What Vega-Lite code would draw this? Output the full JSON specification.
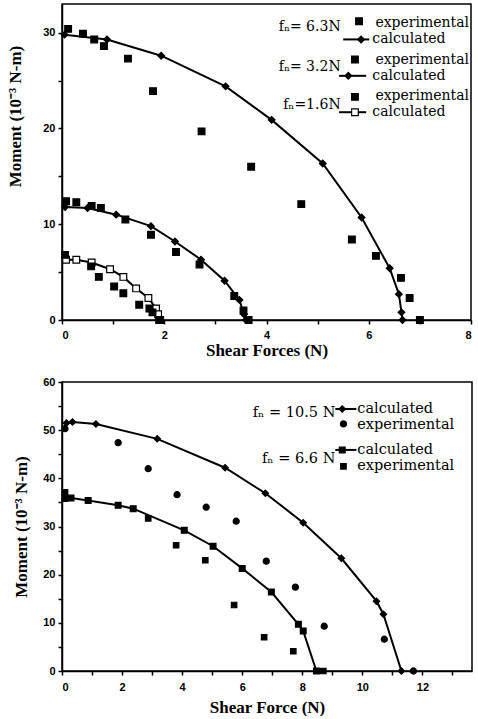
{
  "$schema": "https://vega.github.io/schema/vega-lite/v6.json",
  "padding": {"left": 6, "top": 3, "right": 4, "bottom": 0},
  "background": "white",
  "spacing": 16,
  "columns": 1,
  "align": "none",
  "resolve": {"scale": {"shape": "independent", "fill": "independent", "size": "independent"}},
  "config": {
    "font": "Liberation Serif",
    "axis": {"labelFont": "Liberation Sans", "labelFontWeight": "bold", "labelFontSize": 11, "labelColor": "black",
      "titleFont": "Liberation Serif", "titleFontSize": 17, "titleFontWeight": "bold", "titleColor": "black",
      "domainColor": "black", "domainWidth": 1.5, "tickColor": "black", "tickWidth": 1.5, "tickSize": 4,
      "grid": false, "labelOverlap": false, "labelPadding": 3},
    "view": {"stroke": "black", "strokeWidth": 1.5},
    "text": {"font": "DejaVu Serif", "fontSize": 14, "color": "black"}
  },
  "datasets": {
    "top": [
      {"s": "6.3N calculated", "kind": "calc", "x": 0.05, "y": 29.8},
      {"s": "6.3N calculated", "kind": "calc", "x": 0.88, "y": 29.3},
      {"s": "6.3N calculated", "kind": "calc", "x": 1.94, "y": 27.6},
      {"s": "6.3N calculated", "kind": "calc", "x": 3.2, "y": 24.4},
      {"s": "6.3N calculated", "kind": "calc", "x": 4.1, "y": 20.9},
      {"s": "6.3N calculated", "kind": "calc", "x": 5.1, "y": 16.35},
      {"s": "6.3N calculated", "kind": "calc", "x": 5.86, "y": 10.7},
      {"s": "6.3N calculated", "kind": "calc", "x": 6.41, "y": 5.4},
      {"s": "6.3N calculated", "kind": "calc", "x": 6.59, "y": 2.7},
      {"s": "6.3N calculated", "kind": "calc", "x": 6.64, "y": 0.8},
      {"s": "6.3N calculated", "kind": "calc", "x": 6.66, "y": 0},
      {"s": "6.3N experimental", "kind": "exp", "x": 0.12, "y": 30.4},
      {"s": "6.3N experimental", "kind": "exp", "x": 0.41, "y": 29.9},
      {"s": "6.3N experimental", "kind": "exp", "x": 0.63, "y": 29.3},
      {"s": "6.3N experimental", "kind": "exp", "x": 0.82, "y": 28.6},
      {"s": "6.3N experimental", "kind": "exp", "x": 1.29, "y": 27.3},
      {"s": "6.3N experimental", "kind": "exp", "x": 1.78, "y": 23.9},
      {"s": "6.3N experimental", "kind": "exp", "x": 2.73, "y": 19.7},
      {"s": "6.3N experimental", "kind": "exp", "x": 3.7, "y": 16.0},
      {"s": "6.3N experimental", "kind": "exp", "x": 4.68, "y": 12.1},
      {"s": "6.3N experimental", "kind": "exp", "x": 5.67, "y": 8.4},
      {"s": "6.3N experimental", "kind": "exp", "x": 6.14, "y": 6.7},
      {"s": "6.3N experimental", "kind": "exp", "x": 6.63, "y": 4.4},
      {"s": "6.3N experimental", "kind": "exp", "x": 6.8, "y": 2.3},
      {"s": "6.3N experimental", "kind": "exp", "x": 7.0, "y": 0},
      {"s": "3.2N calculated", "kind": "calc", "x": 0.06, "y": 11.8},
      {"s": "3.2N calculated", "kind": "calc", "x": 0.5, "y": 11.7},
      {"s": "3.2N calculated", "kind": "calc", "x": 1.06, "y": 11.0},
      {"s": "3.2N calculated", "kind": "calc", "x": 1.74, "y": 9.8},
      {"s": "3.2N calculated", "kind": "calc", "x": 2.21, "y": 8.2},
      {"s": "3.2N calculated", "kind": "calc", "x": 2.72, "y": 6.3},
      {"s": "3.2N calculated", "kind": "calc", "x": 3.18, "y": 4.1},
      {"s": "3.2N calculated", "kind": "calc", "x": 3.47, "y": 2.1},
      {"s": "3.2N calculated", "kind": "calc", "x": 3.56, "y": 0.6},
      {"s": "3.2N calculated", "kind": "calc", "x": 3.6, "y": 0},
      {"s": "3.2N experimental", "kind": "exp", "x": 0.08, "y": 12.4},
      {"s": "3.2N experimental", "kind": "exp", "x": 0.28, "y": 12.3},
      {"s": "3.2N experimental", "kind": "exp", "x": 0.58, "y": 11.9},
      {"s": "3.2N experimental", "kind": "exp", "x": 0.76, "y": 11.7},
      {"s": "3.2N experimental", "kind": "exp", "x": 1.24, "y": 10.5},
      {"s": "3.2N experimental", "kind": "exp", "x": 1.74, "y": 8.9},
      {"s": "3.2N experimental", "kind": "exp", "x": 2.23, "y": 7.1},
      {"s": "3.2N experimental", "kind": "exp", "x": 2.69, "y": 5.8},
      {"s": "3.2N experimental", "kind": "exp", "x": 3.37, "y": 2.5},
      {"s": "3.2N experimental", "kind": "exp", "x": 3.55, "y": 1.0},
      {"s": "3.2N experimental", "kind": "exp", "x": 3.65, "y": 0},
      {"s": "1.6N calculated", "kind": "calc", "x": 0.08, "y": 6.3},
      {"s": "1.6N calculated", "kind": "calc", "x": 0.28, "y": 6.3},
      {"s": "1.6N calculated", "kind": "calc", "x": 0.58, "y": 6.0},
      {"s": "1.6N calculated", "kind": "calc", "x": 0.94, "y": 5.3},
      {"s": "1.6N calculated", "kind": "calc", "x": 1.2, "y": 4.5},
      {"s": "1.6N calculated", "kind": "calc", "x": 1.45, "y": 3.3},
      {"s": "1.6N calculated", "kind": "calc", "x": 1.69, "y": 2.3},
      {"s": "1.6N calculated", "kind": "calc", "x": 1.84, "y": 1.2},
      {"s": "1.6N calculated", "kind": "calc", "x": 1.88, "y": 0.6},
      {"s": "1.6N calculated", "kind": "calc", "x": 1.92, "y": 0},
      {"s": "1.6N experimental", "kind": "exp", "x": 0.06, "y": 6.8},
      {"s": "1.6N experimental", "kind": "exp", "x": 0.57, "y": 5.6},
      {"s": "1.6N experimental", "kind": "exp", "x": 0.72, "y": 4.5},
      {"s": "1.6N experimental", "kind": "exp", "x": 1.02, "y": 3.5},
      {"s": "1.6N experimental", "kind": "exp", "x": 1.2, "y": 2.8},
      {"s": "1.6N experimental", "kind": "exp", "x": 1.51, "y": 1.6},
      {"s": "1.6N experimental", "kind": "exp", "x": 1.71, "y": 1.2},
      {"s": "1.6N experimental", "kind": "exp", "x": 1.77, "y": 0.8},
      {"s": "1.6N experimental", "kind": "exp", "x": 1.9, "y": 0}
    ],
    "topLegSym": [
      {"s": "6.3N experimental", "x": 5.81, "y": 31.2},
      {"s": "6.3N calculated", "x": 5.85, "y": 29.3},
      {"s": "3.2N experimental", "x": 5.73, "y": 27.2},
      {"s": "3.2N calculated", "x": 5.6, "y": 25.5},
      {"s": "1.6N experimental", "x": 5.73, "y": 23.3},
      {"s": "1.6N calculated", "x": 5.73, "y": 21.7}
    ],
    "topLegLine": [
      {"x": 5.5, "x2": 6.01, "y": 29.3},
      {"x": 5.42, "x2": 5.95, "y": 25.5},
      {"x": 5.42, "x2": 5.95, "y": 21.7}
    ],
    "topLegFn": [
      {"t": "fₙ= 6.3N", "x": 5.45, "y": 30.6},
      {"t": "fₙ= 3.2N", "x": 5.45, "y": 26.4},
      {"t": "fₙ=1.6N", "x": 5.45, "y": 22.5}
    ],
    "topLegTxt": [
      {"t": "experimental", "x": 6.13, "y": 31.0},
      {"t": "calculated", "x": 6.07, "y": 29.3},
      {"t": "experimental", "x": 6.13, "y": 27.1},
      {"t": "calculated", "x": 6.07, "y": 25.5},
      {"t": "experimental", "x": 6.13, "y": 23.4},
      {"t": "calculated", "x": 6.07, "y": 21.7}
    ],
    "bottom": [
      {"s": "10.5N calculated", "kind": "calc", "x": 0.15, "y": 51.5},
      {"s": "10.5N calculated", "kind": "calc", "x": 0.35, "y": 51.7},
      {"s": "10.5N calculated", "kind": "calc", "x": 1.13, "y": 51.3},
      {"s": "10.5N calculated", "kind": "calc", "x": 3.17, "y": 48.2},
      {"s": "10.5N calculated", "kind": "calc", "x": 5.43, "y": 42.2},
      {"s": "10.5N calculated", "kind": "calc", "x": 6.77, "y": 36.9},
      {"s": "10.5N calculated", "kind": "calc", "x": 8.03, "y": 30.8},
      {"s": "10.5N calculated", "kind": "calc", "x": 9.3, "y": 23.4},
      {"s": "10.5N calculated", "kind": "calc", "x": 10.47, "y": 14.5},
      {"s": "10.5N calculated", "kind": "calc", "x": 10.7, "y": 11.8},
      {"s": "10.5N calculated", "kind": "calc", "x": 11.3, "y": 0},
      {"s": "10.5N experimental", "kind": "exp", "x": 0.1, "y": 50.3},
      {"s": "10.5N experimental", "kind": "exp", "x": 1.87, "y": 47.4},
      {"s": "10.5N experimental", "kind": "exp", "x": 2.87, "y": 42.0},
      {"s": "10.5N experimental", "kind": "exp", "x": 3.83, "y": 36.6},
      {"s": "10.5N experimental", "kind": "exp", "x": 4.8, "y": 34.0},
      {"s": "10.5N experimental", "kind": "exp", "x": 5.8, "y": 31.1},
      {"s": "10.5N experimental", "kind": "exp", "x": 6.8, "y": 22.8},
      {"s": "10.5N experimental", "kind": "exp", "x": 7.77, "y": 17.4},
      {"s": "10.5N experimental", "kind": "exp", "x": 8.73, "y": 9.3},
      {"s": "10.5N experimental", "kind": "exp", "x": 10.73, "y": 6.6},
      {"s": "10.5N experimental", "kind": "exp", "x": 11.7, "y": 0},
      {"s": "6.6N calculated", "kind": "calc", "x": 0.3, "y": 35.9},
      {"s": "6.6N calculated", "kind": "calc", "x": 0.87, "y": 35.4},
      {"s": "6.6N calculated", "kind": "calc", "x": 1.87, "y": 34.4},
      {"s": "6.6N calculated", "kind": "calc", "x": 2.37, "y": 33.7},
      {"s": "6.6N calculated", "kind": "calc", "x": 4.07, "y": 29.2},
      {"s": "6.6N calculated", "kind": "calc", "x": 5.03, "y": 25.9},
      {"s": "6.6N calculated", "kind": "calc", "x": 6.0, "y": 21.3},
      {"s": "6.6N calculated", "kind": "calc", "x": 6.97, "y": 16.4},
      {"s": "6.6N calculated", "kind": "calc", "x": 7.87, "y": 9.7},
      {"s": "6.6N calculated", "kind": "calc", "x": 8.03, "y": 8.3},
      {"s": "6.6N calculated", "kind": "calc", "x": 8.47, "y": 0},
      {"s": "6.6N experimental", "kind": "exp", "x": 0.1, "y": 37.1},
      {"s": "6.6N experimental", "kind": "exp", "x": 0.1, "y": 35.8},
      {"s": "6.6N experimental", "kind": "exp", "x": 2.87, "y": 31.7},
      {"s": "6.6N experimental", "kind": "exp", "x": 3.8, "y": 26.1},
      {"s": "6.6N experimental", "kind": "exp", "x": 4.77, "y": 23.0},
      {"s": "6.6N experimental", "kind": "exp", "x": 5.73, "y": 13.7},
      {"s": "6.6N experimental", "kind": "exp", "x": 6.73, "y": 7.0},
      {"s": "6.6N experimental", "kind": "exp", "x": 7.7, "y": 4.1},
      {"s": "6.6N experimental", "kind": "exp", "x": 8.7, "y": 0}
    ],
    "botLegSym": [
      {"s": "10.5N calculated", "x": 9.33, "y": 54.4},
      {"s": "10.5N experimental", "x": 9.37, "y": 51.3},
      {"s": "6.6N calculated", "x": 9.33, "y": 45.9},
      {"s": "6.6N experimental", "x": 9.37, "y": 42.5}
    ],
    "botLegLine": [
      {"x": 9.1, "x2": 9.8, "y": 54.4},
      {"x": 9.1, "x2": 9.8, "y": 45.9}
    ],
    "botLegFn": [
      {"t": "fₙ = 10.5 N", "x": 9.1, "y": 53.6},
      {"t": "fₙ = 6.6 N", "x": 9.1, "y": 44.0}
    ],
    "botLegTxt": [
      {"t": "calculated", "x": 9.83, "y": 54.4},
      {"t": "experimental", "x": 9.83, "y": 51.0},
      {"t": "calculated", "x": 9.83, "y": 45.9},
      {"t": "experimental", "x": 9.83, "y": 42.5}
    ]
  },
  "concat": [
    {
      "width": 409, "height": 316,
      "encoding": {
        "x": {"field": "x", "type": "quantitative", "scale": {"domain": [0, 8], "nice": false, "zero": false},
          "axis": {"title": "Shear Forces (N)", "values": [0,1,2,3,4,5,6,7,8], "labelExpr": "datum.value % 2 == 0 ? datum.label : ''", "labelPadding": 5, "titlePadding": 2}},
        "y": {"field": "y", "type": "quantitative", "scale": {"domain": [0, 33], "nice": false, "zero": false},
          "axis": {"title": "Moment (10⁻³ N-m)", "values": [0,5,10,15,20,25,30], "labelExpr": "datum.value % 10 == 0 ? datum.label : ''", "titlePadding": 18, "titleY": 112}}
      },
      "layer": [
        {"data": {"name": "top"}, "transform": [{"filter": "datum.kind == 'calc'"}],
          "mark": {"type": "line", "color": "black", "strokeWidth": 2},
          "encoding": {"detail": {"field": "s"}}},
        {"data": {"name": "topLegLine"}, "mark": {"type": "rule", "color": "black", "strokeWidth": 2},
          "encoding": {"x2": {"field": "x2"}}},
        {"data": {"name": "top"},
          "mark": {"type": "point", "stroke": "black", "strokeWidth": 1.2, "opacity": 1},
          "encoding": {
            "shape": {"field": "s", "legend": null, "scale": {"domain": ["6.3N calculated","6.3N experimental","3.2N calculated","3.2N experimental","1.6N calculated","1.6N experimental"], "range": ["diamond","square","diamond","square","square","square"]}},
            "fill": {"field": "s", "legend": null, "scale": {"domain": ["6.3N calculated","6.3N experimental","3.2N calculated","3.2N experimental","1.6N calculated","1.6N experimental"], "range": ["black","black","black","black","white","black"]}},
            "size": {"field": "s", "legend": null, "scale": {"domain": ["6.3N calculated","6.3N experimental","3.2N calculated","3.2N experimental","1.6N calculated","1.6N experimental"], "range": [45,45,45,45,30,45]}}
          }},
        {"data": {"name": "topLegSym"},
          "mark": {"type": "point", "stroke": "black", "strokeWidth": 1.2, "opacity": 1},
          "encoding": {
            "shape": {"field": "s", "legend": null},
            "fill": {"field": "s", "legend": null},
            "size": {"field": "s", "legend": null}
          }},
        {"data": {"name": "topLegFn"}, "mark": {"type": "text", "align": "right", "baseline": "middle"},
          "encoding": {"text": {"field": "t"}}},
        {"data": {"name": "topLegTxt"}, "mark": {"type": "text", "align": "left", "baseline": "middle"},
          "encoding": {"text": {"field": "t"}}}
      ]
    },
    {
      "width": 410, "height": 289,
      "encoding": {
        "x": {"field": "x", "type": "quantitative", "scale": {"domain": [0, 13.65], "nice": false, "zero": false},
          "axis": {"title": "Shear Force (N)", "values": [0,1,2,3,4,5,6,7,8,9,10,11,12,13], "labelExpr": "datum.value % 2 == 0 ? datum.label : ''", "labelPadding": 6, "titlePadding": 7}},
        "y": {"field": "y", "type": "quantitative", "scale": {"domain": [0, 60], "nice": false, "zero": false},
          "axis": {"title": "Moment (10⁻³ N-m)", "values": [0,5,10,15,20,25,30,35,40,45,50,55,60], "labelExpr": "datum.value % 10 == 0 ? datum.label : ''", "titlePadding": 12}}
      },
      "layer": [
        {"data": {"name": "bottom"}, "transform": [{"filter": "datum.kind == 'calc'"}],
          "mark": {"type": "line", "color": "black", "strokeWidth": 2},
          "encoding": {"detail": {"field": "s"}}},
        {"data": {"name": "botLegLine"}, "mark": {"type": "rule", "color": "black", "strokeWidth": 2},
          "encoding": {"x2": {"field": "x2"}}},
        {"data": {"name": "bottom"},
          "mark": {"type": "point", "stroke": "black", "strokeWidth": 1.2, "opacity": 1},
          "encoding": {
            "shape": {"field": "s", "legend": null, "scale": {"domain": ["10.5N calculated","10.5N experimental","6.6N calculated","6.6N experimental"], "range": ["diamond","circle","square","square"]}},
            "fill": {"field": "s", "legend": null, "scale": {"domain": ["10.5N calculated","10.5N experimental","6.6N calculated","6.6N experimental"], "range": ["black","black","black","black"]}},
            "size": {"field": "s", "legend": null, "scale": {"domain": ["10.5N calculated","10.5N experimental","6.6N calculated","6.6N experimental"], "range": [40,30,40,40]}}
          }},
        {"data": {"name": "botLegSym"},
          "mark": {"type": "point", "stroke": "black", "strokeWidth": 1.2, "opacity": 1},
          "encoding": {
            "shape": {"field": "s", "legend": null},
            "fill": {"field": "s", "legend": null},
            "size": {"field": "s", "legend": null}
          }},
        {"data": {"name": "botLegFn"}, "mark": {"type": "text", "align": "right", "baseline": "middle", "fontSize": 14.5},
          "encoding": {"text": {"field": "t"}}},
        {"data": {"name": "botLegTxt"}, "mark": {"type": "text", "align": "left", "baseline": "middle", "fontSize": 14.5},
          "encoding": {"text": {"field": "t"}}}
      ]
    }
  ]
}
